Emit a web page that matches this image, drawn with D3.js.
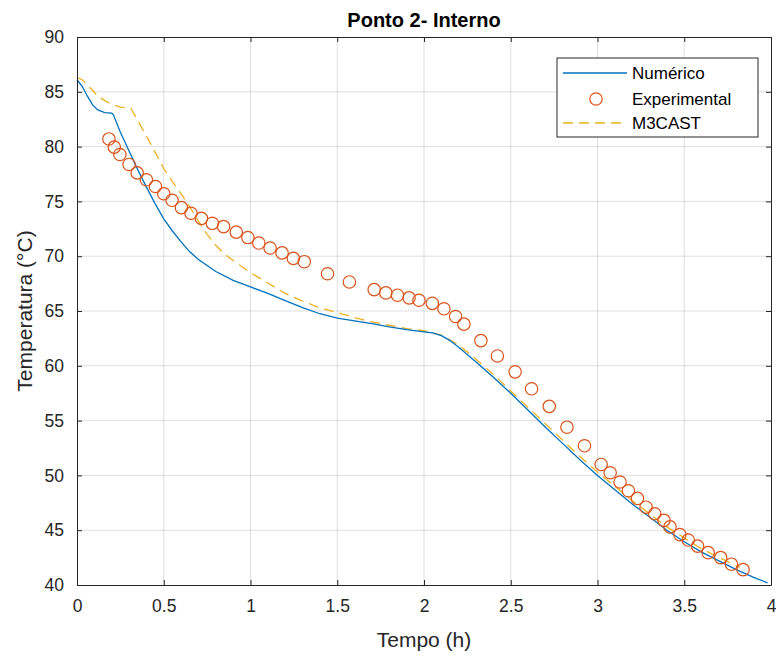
<!DOCTYPE html>
<html>
<head>
<meta charset="utf-8">
<script src="https://cdn.jsdelivr.net/npm/d3@7"></script>
<style>
  body { margin: 0; background: #fff; }
  svg { display: block; font-family: "Liberation Sans", Arial, sans-serif; }
</style>
</head>
<body>
<div id="viz-container"></div>
<script>
const width = 776, height = 657;

// Dados
const tempoNum = [0, 0.03, 0.06, 0.09, 0.12, 0.16, 0.2, 0.21, 0.25, 0.3, 0.35, 0.4, 0.45, 0.5, 0.55, 0.6, 0.65, 0.7, 0.8, 0.9, 1.0, 1.1, 1.2, 1.3, 1.4, 1.5, 1.6, 1.7, 1.8, 1.9, 2.0, 2.05, 2.1, 2.15, 2.2, 2.3, 2.4, 2.5, 2.6, 2.7, 2.8, 2.9, 3.0, 3.1, 3.2, 3.3, 3.4, 3.5, 3.6, 3.7, 3.8, 3.9, 3.98];
const tempNum = [86.1, 85.5, 84.6, 83.8, 83.35, 83.1, 83.05, 82.9, 81.3, 79.6, 77.9, 76.3, 74.8, 73.4, 72.3, 71.3, 70.4, 69.7, 68.6, 67.8, 67.2, 66.6, 65.95, 65.3, 64.75, 64.35, 64.1, 63.85, 63.55, 63.3, 63.1, 63.0, 62.75, 62.3, 61.7, 60.35, 58.95, 57.5, 55.95, 54.4, 52.9, 51.4, 50.0, 48.7, 47.4, 46.2, 45.0, 43.95, 43.0, 42.2, 41.4, 40.7, 40.2];

const tempoExp = [0.184, 0.215, 0.247, 0.300, 0.347, 0.400, 0.452, 0.500, 0.548, 0.602, 0.657, 0.717, 0.78, 0.845, 0.918, 0.985, 1.048, 1.113, 1.182, 1.247, 1.31, 1.444, 1.57, 1.713, 1.78, 1.847, 1.914, 1.971, 2.048, 2.115, 2.182, 2.23, 2.328, 2.423, 2.525, 2.62, 2.722, 2.824, 2.925, 3.021, 3.073, 3.13, 3.178, 3.23, 3.28, 3.33, 3.383, 3.418, 3.475, 3.523, 3.577, 3.638, 3.71, 3.772, 3.839];
const tempExp = [80.7, 79.95, 79.28, 78.37, 77.6, 76.97, 76.36, 75.7, 75.1, 74.43, 73.92, 73.45, 73.0, 72.7, 72.2, 71.7, 71.2, 70.75, 70.3, 69.8, 69.5, 68.4, 67.65, 66.95, 66.65, 66.44, 66.2, 65.98, 65.7, 65.2, 64.5, 63.8, 62.3, 60.9, 59.45, 57.9, 56.3, 54.4, 52.7, 51.0, 50.24, 49.4, 48.6, 47.9, 47.1, 46.5, 45.9, 45.3, 44.6, 44.1, 43.55, 42.95, 42.5, 41.9, 41.4];

const tempoM3 = [0, 0.03, 0.08, 0.12, 0.16, 0.2, 0.25, 0.31, 0.35, 0.4, 0.45, 0.5, 0.55, 0.6, 0.65, 0.7, 0.75, 0.8, 0.85, 0.9, 1.0, 1.1, 1.2, 1.3, 1.4, 1.5, 1.6, 1.7, 1.8, 1.9, 2.0, 2.1, 2.2, 2.3, 2.4, 2.5, 2.6, 2.7, 2.8, 2.9, 3.0, 3.2, 3.4, 3.6, 3.82];
const tempM3 = [86.3, 86.1, 85.3, 84.6, 84.2, 83.85, 83.6, 83.5, 82.4, 80.95, 79.5, 78.0, 76.8, 75.7, 74.5, 73.2, 72.0, 71.0, 70.2, 69.6, 68.5, 67.55, 66.6, 65.9, 65.3, 64.85, 64.4, 64.0, 63.7, 63.4, 63.2, 62.8, 61.9, 60.6, 59.2, 57.7, 56.2, 54.7, 53.2, 51.7, 50.3, 47.7, 45.3, 43.3, 41.6];

const xTicks = [0, 0.5, 1, 1.5, 2, 2.5, 3, 3.5, 4];
const yTicks = [40, 45, 50, 55, 60, 65, 70, 75, 80, 85, 90];
const series = ["Numérico", "Experimental", "M3CAST"];

const colors = { num: "#0072BD", exp: "#D95319", m3: "#EDB120" };
const margin = { top: 37, right: 5, bottom: 72, left: 77 };

const svg = d3.select("#viz-container")
  .append("svg")
  .attr("width", width)
  .attr("height", height);

svg.append("rect").attr("width", width).attr("height", height).attr("fill", "#fff");

const x = d3.scaleLinear().domain([0, 4]).range([margin.left, width - margin.right]);
const y = d3.scaleLinear().domain([40, 90]).range([height - margin.bottom, margin.top]);

// Grade
svg.append("g").selectAll("line")
  .data(xTicks.slice(1, -1))
  .join("line")
  .attr("x1", d => x(d)).attr("x2", d => x(d))
  .attr("y1", y(40)).attr("y2", y(90))
  .attr("stroke", "#262626").attr("stroke-opacity", 0.15);
svg.append("g").selectAll("line")
  .data(yTicks.slice(1, -1))
  .join("line")
  .attr("x1", x(0)).attr("x2", x(4))
  .attr("y1", d => y(d)).attr("y2", d => y(d))
  .attr("stroke", "#262626").attr("stroke-opacity", 0.15);

// Curvas
const line = d3.line().x(d => x(d[0])).y(d => y(d[1]));
const plot = svg.append("g");

plot.append("path")
  .datum(d3.zip(tempoM3, tempM3))
  .attr("d", line)
  .attr("fill", "none")
  .attr("stroke", colors.m3)
  .attr("stroke-width", 1.3)
  .attr("stroke-dasharray", "10,6");

plot.append("path")
  .datum(d3.zip(tempoNum, tempNum))
  .attr("d", line)
  .attr("fill", "none")
  .attr("stroke", colors.num)
  .attr("stroke-width", 1.3);

plot.selectAll("circle")
  .data(d3.zip(tempoExp, tempExp))
  .join("circle")
  .attr("cx", d => x(d[0]))
  .attr("cy", d => y(d[1]))
  .attr("r", 6.2)
  .attr("fill", "none")
  .attr("stroke", colors.exp)
  .attr("stroke-width", 1.2);

// Eixos (ticks para dentro, caixa fechada)
const axisStyle = g => {
  g.select(".domain").attr("stroke", "#262626");
  g.selectAll(".tick line").attr("stroke", "#262626");
  g.selectAll("text").attr("fill", "#262626").style("font-size", "17.5px");
};

svg.append("g")
  .attr("transform", `translate(0,${y(40)})`)
  .call(d3.axisBottom(x).tickValues(xTicks).tickFormat(d3.format("")).tickSizeInner(-5).tickSizeOuter(0).tickPadding(15))
  .call(axisStyle);
svg.append("g")
  .attr("transform", `translate(0,${y(90)})`)
  .call(d3.axisTop(x).tickValues(xTicks).tickFormat("").tickSizeInner(-5).tickSizeOuter(0))
  .call(axisStyle);
svg.append("g")
  .attr("transform", `translate(${x(0)},0)`)
  .call(d3.axisLeft(y).tickValues(yTicks).tickSizeInner(-5).tickSizeOuter(0).tickPadding(13))
  .call(axisStyle);
svg.append("g")
  .attr("transform", `translate(${x(4)},0)`)
  .call(d3.axisRight(y).tickValues(yTicks).tickFormat("").tickSizeInner(-5).tickSizeOuter(0))
  .call(axisStyle);

// Rótulos
svg.append("text")
  .attr("x", (x(0) + x(4)) / 2)
  .attr("y", 27)
  .attr("text-anchor", "middle")
  .style("font-weight", "bold")
  .style("font-size", "20px")
  .attr("fill", "#000")
  .text("Ponto 2- Interno");
svg.append("text")
  .attr("x", (x(0) + x(4)) / 2)
  .attr("y", 647)
  .attr("text-anchor", "middle")
  .style("font-size", "21px")
  .attr("fill", "#262626")
  .text("Tempo (h)");
svg.append("text")
  .attr("transform", `translate(32,${(y(40) + y(90)) / 2}) rotate(-90)`)
  .attr("text-anchor", "middle")
  .style("font-size", "21px")
  .attr("fill", "#262626")
  .text("Temperatura (°C)");

// Legenda
const legend = svg.append("g").attr("transform", "translate(557,58)");
legend.append("rect")
  .attr("width", 201).attr("height", 79)
  .attr("fill", "#fff").attr("stroke", "#262626").attr("stroke-width", 1);

const rowY = [15, 41, 65];
series.forEach((name, i) => {
  const g = legend.append("g").attr("transform", `translate(0,${rowY[i]})`);
  if (i === 0) {
    g.append("line").attr("x1", 6).attr("x2", 70).attr("stroke", colors.num).attr("stroke-width", 1.3);
  } else if (i === 1) {
    g.append("circle").attr("cx", 39).attr("r", 6.2).attr("fill", "none").attr("stroke", colors.exp).attr("stroke-width", 1.2);
  } else {
    g.append("line").attr("x1", 6).attr("x2", 70).attr("stroke", colors.m3).attr("stroke-width", 1.3).attr("stroke-dasharray", "10,6");
  }
  g.append("text")
    .attr("x", 75)
    .attr("dy", "0.35em")
    .style("font-size", "17px")
    .attr("fill", "#000")
    .text(name);
});
</script>
</body>
</html>
